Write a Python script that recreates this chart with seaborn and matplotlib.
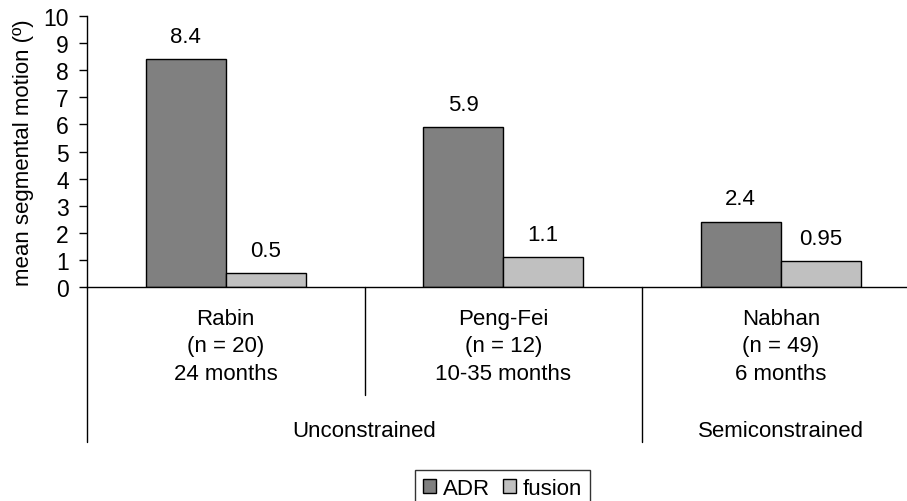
import pandas as pd
import matplotlib
matplotlib.use("Agg")
import matplotlib.pyplot as plt
import seaborn as sns

# Data
studies = ["Rabin", "Peng-Fei", "Nabhan"]
sizes = ["(n = 20)", "(n = 12)", "(n = 49)"]
follow_up = ["24 months", "10-35 months", "6 months"]
adr = [8.4, 5.9, 2.4]
fusion = [0.5, 1.1, 0.95]
adr_labels = ["8.4", "5.9", "2.4"]
fusion_labels = ["0.5", "1.1", "0.95"]
groups = ["Unconstrained", "Semiconstrained"]
group_spans = [(0, 1), (2, 2)]  # first and last study index of each group

df = pd.DataFrame({
    "study": studies * 2,
    "value": adr + fusion,
    "treatment": ["ADR"] * 3 + ["fusion"] * 3,
})

sns.set_theme(style="white")
plt.rcParams["font.family"] = ["Liberation Sans", "DejaVu Sans"]
plt.rcParams.update({"text.color": "black", "axes.labelcolor": "black",
                     "xtick.color": "black", "ytick.color": "black"})

fig = plt.figure(figsize=(9.07, 5.02), dpi=100)
ax = fig.add_axes([87 / 907, 1 - 288 / 502, 832.5 / 907, 271 / 502])

sns.barplot(data=df, x="study", y="value", hue="treatment",
            palette=["#808080", "#C0C0C0"], edgecolor="black", linewidth=1,
            width=0.577, gap=0, ax=ax, legend=False)

ax.bar_label(ax.containers[0], labels=adr_labels, padding=9, fontsize=16)
ax.bar_label(ax.containers[1], labels=fusion_labels, padding=9, fontsize=16)

ax.set_xlim(-0.5, 2.5)
ax.set_ylim(0, 10)
ax.set_yticks(range(0, 11))
ax.tick_params(axis="y", direction="out", length=6, width=1, color="black",
               labelsize=16.5, left=True, pad=7)
ax.set_xticks(range(len(studies)))
ax.set_xticklabels([f"{s}\n{n}\n{f}" for s, n, f in zip(studies, sizes, follow_up)],
                   fontsize=16, linespacing=1.4)
ax.tick_params(axis="x", length=0, pad=15)
ax.set_xlabel("")
ax.set_ylabel("mean segmental motion (º)", fontsize=16, labelpad=7)

for side in ["top", "right"]:
    ax.spines[side].set_visible(False)
for side in ["left", "bottom"]:
    ax.spines[side].set_color("black")
    ax.spines[side].set_linewidth(1)

# category dividers below the axis
trans = ax.get_xaxis_transform()
ax.plot([-0.5, -0.5], [0, -0.572], color="black", lw=1, transform=trans, clip_on=False)
ax.plot([0.5, 0.5], [0, -0.3985], color="black", lw=1, transform=trans, clip_on=False)
ax.plot([1.5, 1.5], [0, -0.572], color="black", lw=1, transform=trans, clip_on=False)

for name, (a, b) in zip(groups, group_spans):
    ax.text((a + b) / 2, -0.5277, name, transform=trans, ha="center", va="center",
            fontsize=16)

handles = [plt.Rectangle((0, 0), 1, 1, facecolor=c, edgecolor="black", lw=1)
           for c in ["#808080", "#C0C0C0"]]
leg = ax.legend(handles, ["ADR", "fusion"], loc="lower center",
                bbox_to_anchor=(0.554, -0.012), bbox_transform=fig.transFigure,
                ncol=2, fontsize=16, frameon=True, fancybox=False,
                handlelength=0.6, handleheight=0.6, handletextpad=0.3,
                columnspacing=0.6, borderpad=0.35, borderaxespad=0)
leg.get_frame().set_edgecolor("black")
leg.get_frame().set_linewidth(1)

fig.savefig("out.png", dpi=100)
